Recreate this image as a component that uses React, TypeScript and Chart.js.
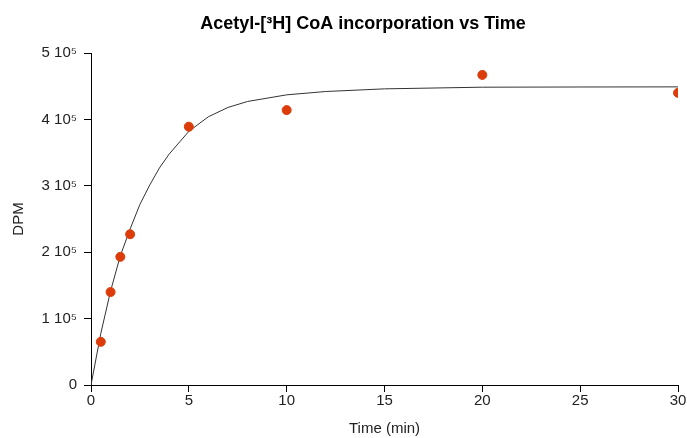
import React, { useEffect, useRef } from "react";
import { Chart, registerables } from "chart.js";

Chart.register(...registerables);

const titleText = "Acetyl-[³H] CoA incorporation vs Time";
const xTitle = "Time (min)";
const yTitle = "DPM";

const timePoints = [0.5, 1, 1.5, 2, 5, 10, 20, 30];
const dpmValues = [65000, 140000, 193000, 227000, 389000, 414000, 467000, 440000];

const fitTimes = [0, 0.5, 1, 1.5, 2, 2.5, 3, 3.5, 4, 5, 6, 7, 8, 10, 12, 15, 20, 25, 30];
const fitValues = [0, 77500, 141600, 194700, 235000, 272000, 301000, 327000, 348000, 382000, 404000, 418000, 427000, 437000, 442000, 446000, 448500, 448800, 449000];

const yTickValues = [0, 100000, 200000, 300000, 400000, 500000];

const fontFamily = "'Liberation Sans', Arial, sans-serif";

const titlePlugin = {
  id: "customTitle",
  afterDraw(chart: any) {
    const ctx = chart.ctx;
    ctx.save();
    ctx.font = `bold 18px ${fontFamily}`;
    ctx.fillStyle = "#000";
    ctx.textAlign = "center";
    ctx.textBaseline = "middle";
    ctx.fillText(titleText, 363, 24);
    ctx.restore();
  },
};

export default function App() {
  const ref = useRef<HTMLCanvasElement>(null);
  useEffect(() => {
    if (!ref.current) return;
    const chart = new Chart(ref.current, {
      type: "scatter",
      data: {
        datasets: [
          {
            type: "scatter",
            label: "Data",
            data: timePoints.map((t, i) => ({ x: t, y: dpmValues[i] })),
            backgroundColor: "#dc3c0a",
            borderColor: "#dc3c0a",
            pointRadius: 4.5,
            order: 0,
          },
          {
            type: "line",
            label: "Fit",
            data: fitTimes.map((t, i) => ({ x: t, y: fitValues[i] })),
            borderColor: "#333",
            borderWidth: 1,
            pointRadius: 0,
            tension: 0,
            fill: false,
            order: 1,
          } as any,
        ],
      },
      options: {
        animation: false,
        responsive: false,
        maintainAspectRatio: false,
        layout: { padding: { left: 0, right: 9, top: 53, bottom: 0 } },
        plugins: { legend: { display: false }, tooltip: { enabled: false }, title: { display: false } },
        scales: {
          x: {
            type: "linear",
            min: 0,
            max: 30,
            ticks: { stepSize: 5, color: "#222", font: { family: fontFamily, size: 15 }, padding: 0 },
            grid: { display: true, drawOnChartArea: false, drawTicks: true, tickLength: 7, color: "#000" },
            border: { display: true, color: "#000", width: 1 },
            title: { display: true, text: xTitle, color: "#222", font: { family: fontFamily, size: 15 }, padding: { top: 0, bottom: 0 } },
            afterFit(scale: any) {
              scale.height = 53;
            },
          },
          y: {
            type: "linear",
            min: 0,
            max: 500000,
            afterBuildTicks(scale: any) {
              scale.ticks = yTickValues.map((v) => ({ value: v }));
            },
            ticks: {
              color: "#222",
              font: { family: fontFamily, size: 15 },
              padding: 7,
              callback: (v: any) => (v === 0 ? "0" : `${v / 100000} 10⁵`),
            },
            grid: { display: true, drawOnChartArea: false, drawTicks: true, tickLength: 7, color: "#000" },
            border: { display: true, color: "#000", width: 1 },
            title: { display: true, text: yTitle, color: "#222", font: { family: fontFamily, size: 15 }, padding: { top: 10, bottom: 0 } },
            afterFit(scale: any) {
              scale.width = 91;
            },
          },
        },
      },
      plugins: [titlePlugin],
    });
    return () => chart.destroy();
  }, []);
  return (
    <div style={{ position: "fixed", left: 0, top: 0, width: 687, height: 438, background: "#fff" }}>
      <canvas ref={ref} width={687} height={438} style={{ width: 687, height: 438 }} />
    </div>
  );
}
